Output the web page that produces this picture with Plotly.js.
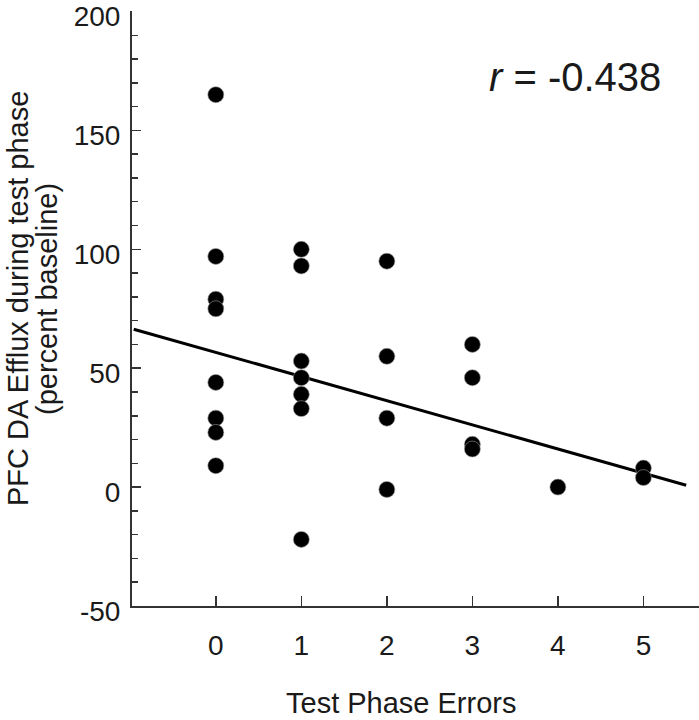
<!DOCTYPE html>
<html>
<head>
<meta charset="utf-8">
<script src="https://cdn.plot.ly/plotly-3.0.1.min.js"></script>
<style>html,body{margin:0;padding:0;background:#fff;}#chart{width:699px;height:720px;}</style>
</head>
<body>
<div id="chart"></div>
<script>
// Test phase errors (x) and PFC DA efflux, percent baseline (y)
const errors = [0,0,0,0,0,0,0,0, 1,1,1,1,1,1,1, 2,2,2,2, 3,3,3,3, 4, 5,5];
const efflux = [165,97,79,75,44,29,23,9, 100,93,53,46,39,33,-22, 95,55,29,-1, 60,46,18,16, 0, 8,4];
// Regression line endpoints
const fitX = [-0.96, 5.5];
const fitY = [66.4, 0.8];
const xTicks = [0,1,2,3,4,5];
const yTicks = [-50,0,50,100,150,200];
const rLabel = '<i>r</i> = -0.438';
const xTitle = 'Test Phase Errors';
const yTitleLine1 = 'PFC DA Efflux during test phase';
const yTitleLine2 = '(percent baseline)';

const FONT = 'Liberation Sans, Arial, Helvetica, sans-serif';
const INK = '#1a1a1a';

// plot area in pixels: x 132..699, y 11..606
const L = 132, W = 567, T = 11, H = 595;
const px = v => (v - L) / W;
const py = v => (T + H - v) / H;

const traces = [
  {x: fitX, y: fitY, type: 'scatter', mode: 'lines',
   line: {color: '#000', width: 3}, hoverinfo: 'skip', showlegend: false},
  {x: errors, y: efflux, type: 'scatter', mode: 'markers',
   marker: {color: '#000', size: 16, line: {color: '#9a9a9a', width: 0.6}},
   showlegend: false}
];

const layout = {
  width: 699, height: 720,
  margin: {l: L, r: 699 - L - W, t: T, b: 720 - T - H},
  paper_bgcolor: '#fff', plot_bgcolor: '#fff',
  font: {family: FONT, color: INK},
  showlegend: false,
  xaxis: {
    range: [-0.98, 5.65], tickvals: xTicks, ticktext: xTicks.map(String),
    showgrid: false, zeroline: false, showline: true, linecolor: '#333', linewidth: 2,
    ticks: 'inside', ticklen: 10, tickwidth: 1.5, tickcolor: '#333',
    tickfont: {size: 28, family: FONT, color: INK}, ticklabelstandoff: 13,
    fixedrange: true
  },
  yaxis: {
    range: [-50, 200.2], tickvals: yTicks, ticktext: yTicks.map(String),
    showgrid: false, zeroline: false, showline: true, linecolor: '#333', linewidth: 2,
    ticks: 'inside', ticklen: 9, tickwidth: 1.5, tickcolor: '#333',
    minor: {dtick: 10, ticks: 'inside', ticklen: 6, tickwidth: 1.5, tickcolor: '#333', showgrid: false},
    tickfont: {size: 28, family: FONT, color: INK}, ticklabelstandoff: 4,
    ticklabelshift: 5, ticklabeloverflow: 'allow',
    fixedrange: true
  },
  annotations: [
    {text: rLabel, xref: 'paper', yref: 'paper', x: px(575), y: py(77),
     xanchor: 'center', yanchor: 'middle', showarrow: false,
     font: {size: 40, family: FONT, color: INK}},
    {text: xTitle, xref: 'paper', yref: 'paper', x: px(401), y: py(703),
     xanchor: 'center', yanchor: 'middle', showarrow: false,
     font: {size: 29, family: FONT, color: INK}},
    {text: yTitleLine1, xref: 'paper', yref: 'paper', x: px(18), y: py(299),
     xanchor: 'center', yanchor: 'middle', showarrow: false, textangle: -90,
     font: {size: 29, family: FONT, color: INK}},
    {text: yTitleLine2, xref: 'paper', yref: 'paper', x: px(47), y: py(299),
     xanchor: 'center', yanchor: 'middle', showarrow: false, textangle: -90,
     font: {size: 29, family: FONT, color: INK}}
  ]
};

Plotly.newPlot('chart', traces, layout, {displayModeBar: false, staticPlot: true});
</script>
</body>
</html>
